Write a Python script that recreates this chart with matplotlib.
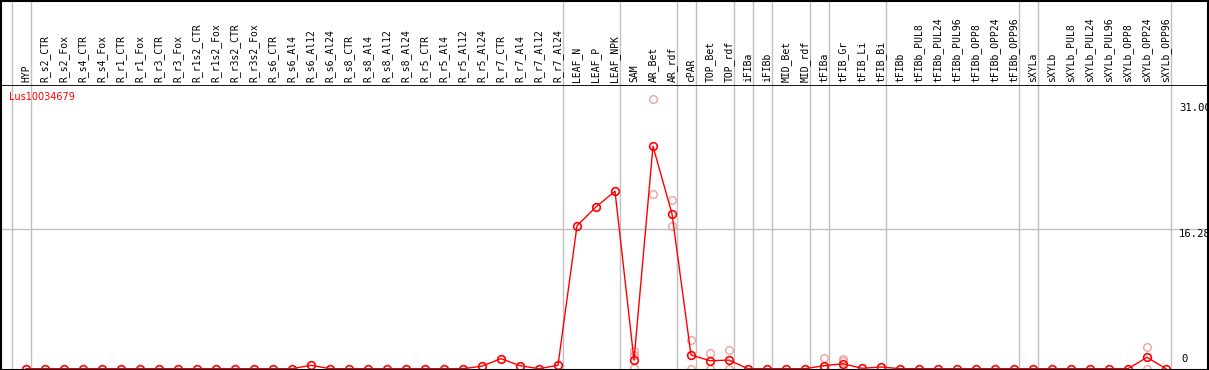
import matplotlib
matplotlib.use('Agg')
import matplotlib.pyplot as plt
from matplotlib.patches import Rectangle


# Amostras (colunas do cabeçalho)
samples = ['HYP',
           'R_s2_CTR', 'R_s2_Fox', 'R_s4_CTR', 'R_s4_Fox', 'R_r1_CTR', 'R_r1_Fox',
           'R_r3_CTR', 'R_r3_Fox', 'R_r1s2_CTR', 'R_r1s2_Fox', 'R_r3s2_CTR', 'R_r3s2_Fox',
           'R_s6_CTR', 'R_s6_Al4', 'R_s6_Al12', 'R_s6_Al24',
           'R_s8_CTR', 'R_s8_Al4', 'R_s8_Al12', 'R_s8_Al24',
           'R_r5_CTR', 'R_r5_Al4', 'R_r5_Al12', 'R_r5_Al24',
           'R_r7_CTR', 'R_r7_Al4', 'R_r7_Al12', 'R_r7_Al24',
           'LEAF_N', 'LEAF_P', 'LEAF_NPK', 'SAM', 'AR_Bet', 'AR_rdf', 'cPAR',
           'TOP_Bet', 'TOP_rdf', 'iFIBa', 'iFIBb', 'MID_Bet', 'MID_rdf',
           'tFIBa', 'tFIB_Gr', 'tFIB_Li', 'tFIB_Bi', 'tFIBb',
           'tFIBb_PUL8', 'tFIBb_PUL24', 'tFIBb_PUL96', 'tFIBb_OPP8', 'tFIBb_OPP24', 'tFIBb_OPP96',
           'sXYLa', 'sXYLb',
           'sXYLb_PUL8', 'sXYLb_PUL24', 'sXYLb_PUL96', 'sXYLb_OPP8', 'sXYLb_OPP24', 'sXYLb_OPP96']

# Médias (linha vermelha)
means = [0,
         0, 0, 0, 0, 0, 0, 0, 0, 0, 0, 0, 0,
         0, 0, 0.4, 0,
         0, 0, 0, 0,
         0, 0, 0, 0.3,
         1.17, 0.35, 0, 0.4,
         16.67, 18.87, 20.7, 1.0, 25.95, 18.05, 1.6,
         0.93, 1.0, 0, 0, 0, 0,
         0.35, 0.58, 0.05, 0.2, 0,
         0, 0, 0, 0, 0, 0,
         0, 0,
         0, 0, 0, 0, 1.33, 0]

# Réplicas (círculos claros)
rep_idx = [32, 32, 32, 33, 33, 34, 34, 35, 35, 36, 36, 37, 37,
           42, 42, 43, 43, 43, 59, 59]
rep_val = [2.1, 1.6, 0.1, 31.5, 20.4, 19.7, 16.6, 3.3, 0, 1.8, 0, 2.2, 0,
           1.25, 0, 1.1, 0.9, 0, 2.57, 0]

# Últimos índices de cada grupo (linhas cinzas verticais)
group_ends = [-1, 0, 28, 31, 34, 35, 37, 38, 39, 41, 42, 45, 52, 53, 60]

gene = 'Lus10034679'
ref_value = 16.28
top_value = 31.00

W, H = 1209, 370
x0, dx = 26, 19          # pixel do primeiro ponto e espaçamento
head_px = 85.5
bottom_px = 368.7
px_per_unit = 8.574

fig = plt.figure(figsize=(W / 100, H / 100), dpi=100)
xlim = (-x0 / dx, (W - x0) / dx)

hax = fig.add_axes([0, 1 - head_px / H, 1, head_px / H])
ax = fig.add_axes([0, (H - bottom_px) / H, 1, (bottom_px - head_px) / H])

for a in (hax, ax):
    a.set_xlim(*xlim)
    a.set_xticks([])
    a.set_yticks([])
    for s in a.spines.values():
        s.set_visible(False)
    for g in group_ends:
        a.axvline(g + 0.24, color='#c0c0c0', lw=1, zorder=0)

hax.set_ylim(0, 1)
for i, name in enumerate(samples):
    hax.text(i, 0.04, name, rotation=90, ha='center', va='bottom',
             fontsize=7, family='DejaVu Sans Mono', color='black')
hax.axhline(0, color='black', lw=2)

ax.set_ylim(0, (bottom_px - head_px) / px_per_unit)
ax.axhline(ref_value, color='#c0c0c0', lw=1, zorder=0)

ax.plot(rep_idx, rep_val, linestyle='none', marker='o', markersize=5.5,
        markerfacecolor='none', markeredgecolor='#f0a0a0', markeredgewidth=1, zorder=2)
ax.plot(range(len(samples)), means, color='red', lw=1, marker='o', markersize=5.5,
        markerfacecolor='none', markeredgecolor='red', markeredgewidth=1.2, zorder=3)

ytr = ax.get_yaxis_transform()
lx = 1179 / W
ax.text(lx, top_value, f'{top_value:.2f}', transform=ytr, ha='left', va='top',
        fontsize=7.6, family='DejaVu Sans Mono')
ax.text(lx, ref_value, f'{ref_value:.2f}', transform=ytr, ha='left', va='top',
        fontsize=7.6, family='DejaVu Sans Mono')
ax.text(1181 / W, 0.5, '0', transform=ytr, ha='left', va='bottom',
        fontsize=7.6, family='DejaVu Sans Mono')

ax.text(9 / W, 1 - (97 - head_px) / (bottom_px - head_px), gene, transform=ax.transAxes,
        ha='left', va='center', fontsize=7, color='red')

# Moldura preta
fig.patches.append(Rectangle((0.5 / W, 0.5 / H), 1 - 1.5 / W, 1 - 1.5 / H,
                             transform=fig.transFigure, fill=False,
                             edgecolor='black', lw=1.5, zorder=10))

fig.savefig('out.png', dpi=100)
